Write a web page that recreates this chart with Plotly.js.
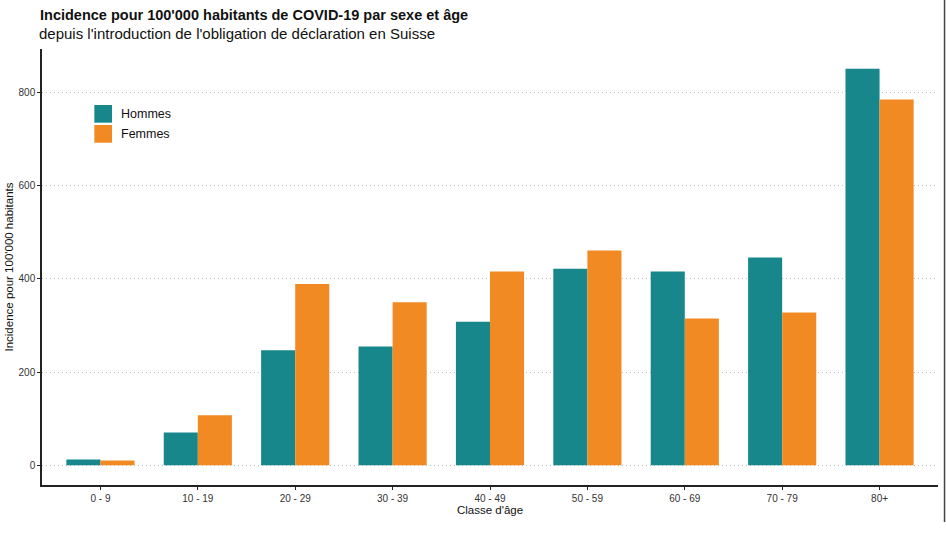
<!DOCTYPE html>
<html>
<head>
<meta charset="utf-8">
<script src="https://cdn.plot.ly/plotly-3.0.1.min.js"></script>
<style>
  html, body { margin: 0; padding: 0; background: #fff; }
  #chart { width: 946px; height: 533px; }
</style>
</head>
<body>
<div id="chart"></div>
<script>
const ageGroups = ["0 - 9", "10 - 19", "20 - 29", "30 - 39", "40 - 49", "50 - 59", "60 - 69", "70 - 79", "80+"];
const seriesNames = ["Hommes", "Femmes"];
const hommes = [12, 70, 247, 255, 308, 422, 416, 446, 851];
const femmes = [10, 107, 389, 350, 416, 461, 315, 328, 785];
const yTicks = [0, 200, 400, 600, 800];

const colors = ["#17878b", "#f18a23"];
const font = "Liberation Sans, Arial, sans-serif";

const traces = [hommes, femmes].map((values, i) => ({
  type: "bar",
  name: seriesNames[i],
  x: ageGroups,
  y: values,
  marker: { color: colors[i], line: { width: 0 } },
  hoverinfo: "x+y+name",
}));

// hand-made legend, ggplot keys are bigger than plotly's
const legendShapes = [];
const legendNotes = [];
seriesNames.forEach((name, i) => {
  const top = 0.8716 - i * 0.0459;
  legendShapes.push({
    type: "rect", xref: "paper", yref: "paper",
    x0: 0.0584, x1: 0.0781, y0: top - 0.0406, y1: top,
    fillcolor: colors[i], line: { width: 0 },
  });
  legendNotes.push({
    xref: "paper", yref: "paper", x: 0.0857, y: top - 0.0203,
    xanchor: "left", yanchor: "middle", showarrow: false,
    text: name, font: { family: font, size: 12.5, color: "#111" },
  });
});

const layout = {
  width: 946,
  height: 533,
  margin: { l: 42, r: 8, t: 49, b: 48 },
  paper_bgcolor: "#fff",
  plot_bgcolor: "#fff",
  font: { family: font, color: "#333" },
  showlegend: false,
  barmode: "group",
  bargap: 0.3,
  bargroupgap: 0,
  title: {
    text: "<b>Incidence pour 100'000 habitants de COVID-19 par sexe et âge</b>",
    x: 40 / 946, xref: "container", xanchor: "left",
    y: 1 - 20 / 533, yref: "container", yanchor: "bottom",
    font: { family: font, size: 14.5, color: "#111" },
  },
  xaxis: {
    type: "category",
    range: [-0.6, 8.6],
    showline: true, linecolor: "#222", linewidth: 1.5,
    ticks: "outside", ticklen: 3, tickcolor: "#222", tickwidth: 1,
    showgrid: false, zeroline: false,
    tickfont: { family: font, size: 10, color: "#333" },
    title: { text: "Classe d'âge", standoff: 2, font: { family: font, size: 11.5, color: "#111" } },
  },
  yaxis: {
    range: [-42.5, 893.5],
    tickvals: yTicks,
    ticktext: yTicks.map(String),
    showline: true, linecolor: "#222", linewidth: 1.5,
    ticks: "outside", ticklen: 3, tickcolor: "#222", tickwidth: 1,
    showgrid: true, gridcolor: "#bdbdbd", gridwidth: 1, griddash: "1px,3px",
    zeroline: false,
    tickfont: { family: font, size: 10, color: "#333" },
    title: { text: "Incidence pour 100'000 habitants", standoff: 3, font: { family: font, size: 11.5, color: "#111" } },
  },
  shapes: legendShapes.concat([
    {
      type: "line", xref: "paper", yref: "paper",
      x0: 1.0073, x1: 1.0073, y0: -0.0849, y1: 1.12,
      line: { color: "#444", width: 1.5 },
    },
  ]),
  annotations: legendNotes.concat([
    {
      xref: "paper", yref: "paper",
      x: (37 - 42) / 896, y: (485 - 44) / 436,
      xanchor: "left", yanchor: "bottom", showarrow: false,
      text: "depuis l'introduction de l'obligation de déclaration en Suisse",
      font: { family: font, size: 15, color: "#111" },
    },
  ]),
};

Plotly.newPlot("chart", traces, layout, { displayModeBar: false, responsive: false });
</script>
</body>
</html>
